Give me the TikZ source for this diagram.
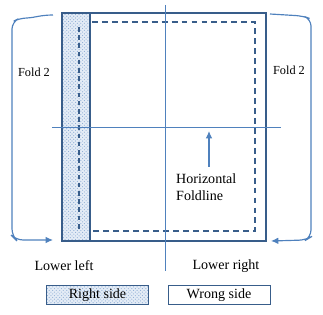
\documentclass[tikz,border=0pt]{standalone}
\usepackage{fontspec}
\setmainfont{Liberation Serif}
\usetikzlibrary{arrows.meta,positioning,patterns}
\definecolor{foldblue}{HTML}{4F81BD}
\definecolor{edgeblue}{HTML}{385D8A}
\definecolor{hatchbg}{HTML}{E4ECF6}

\begin{document}
\begin{tikzpicture}[
  x=0.3mm, y=-0.3mm,
  fabric/.style={draw=edgeblue, line width=1pt},
  rightside/.style={draw=edgeblue, line width=1pt, preaction={fill=hatchbg}, pattern=crosshatch dots, pattern color=foldblue!65},
  seam/.style={draw=edgeblue, line width=0.9pt, dash pattern=on 5pt off 3.5pt},
  foldline/.style={draw=foldblue, line width=0.7pt},
  arr/.style={-{Latex[length=2.2mm,width=2mm]}, draw=foldblue, line width=1pt},
  lab/.style={font=\fontsize{12}{14}\selectfont, align=left, inner sep=0pt},
  foldlab/.style={font=\fontsize{10.5}{12}\selectfont, inner sep=0pt},
  legendbox/.style={draw=edgeblue, line width=0.8pt, minimum width=30.6mm, minimum height=5.7mm, inner sep=0pt, font=\fontsize{12}{14}\selectfont}
]
\useasboundingbox (0,0) rectangle (323,315);
% fabric square with right side strip
\draw[fabric] (62,13) rectangle (266,241);
\draw[rightside] (62,13) rectangle (90,241);
% seam allowance
\draw[seam, dash pattern=on 4pt off 3pt] (79,27) -- (79,232);
\draw[seam] (92,22) -- (255,22) -- (255,231) -- (92,231);
% center foldlines
\draw[foldline] (165,5) -- (165,271);
\draw[foldline] (52,127) -- (281,127);
% labels
\node[lab, anchor=west] (hfold) at (176,187) {Horizontal\\Foldline};
\coordinate (hfoldtop) at (209,131);
\draw[arr] (209,167) -- (hfoldtop);
\node[foldlab] (foldl) at (34,72) {Fold 2};
\node[foldlab] (foldr) at (289,70) {Fold 2};
\node[lab] (lowl) at (64,266) {Lower left};
\node[lab] (lowr) at (226,266) {Lower right};
% fold 2 arrows
\coordinate (ltop) at (53,15);
\coordinate (lend) at (53,240);
\draw[arr, rounded corners=6pt] (ltop) to[out=180, in=0] (20,18) -- (12,22) -- (12,236) -- (16,240) -- (lend);
\coordinate (rtop) at (270,14);
\coordinate (rend) at (271,241);
\draw[arr, rounded corners=6pt] (rtop) -- (303,16) -- (311,19) -- (311,237) -- (306,240) -- (rend);
% legend
\node[legendbox, preaction={fill=hatchbg}, pattern=crosshatch dots, pattern color=foldblue!65] (rightkey) at (97.5,295) {Right side};
\node[legendbox, fill=white] (wrongkey) at (219,295) {Wrong side};
\end{tikzpicture}
\end{document}
